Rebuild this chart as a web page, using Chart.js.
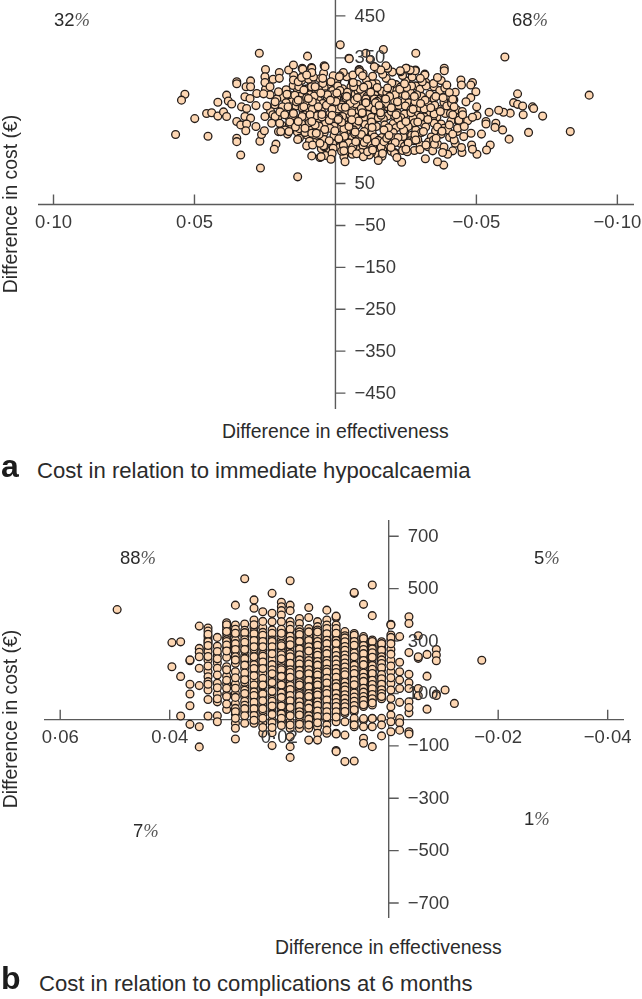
<!DOCTYPE html>
<html>
<head>
<meta charset="utf-8">
<title>Cost-effectiveness planes</title>
<script src="https://cdn.jsdelivr.net/npm/chart.js@4/dist/chart.umd.min.js"></script>
<style>
  html, body { margin: 0; padding: 0; background: #fff; }
  #page { position: relative; width: 642px; height: 999px; overflow: hidden; font-family: "Liberation Sans", Arial, sans-serif; color: #2b2b2b; }
  canvas { position: absolute; left: 0; }
  .txt { position: absolute; white-space: nowrap; line-height: 1; }
  .axis-title { font-size: 19.4px; }
  .caption { font-size: 22.1px; }
  .letter { font-size: 32px; font-weight: bold; color: #1c1c1c; }
  .pct { font-size: 18.5px; }
  .pct i { font-family: "Liberation Serif", serif; font-weight: normal; color: #555; }
  .ytitle { font-size: 19.4px; transform: translate(-50%, -50%) rotate(-90deg); }
</style>
</head>
<body>
<div id="page">
  <canvas id="chart-a" width="642" height="420" style="top:0"></canvas>
  <canvas id="chart-b" width="642" height="420" style="top:510px"></canvas>

  <div class="txt pct" style="left:54px;top:11px">32<i>%</i></div>
  <div class="txt pct" style="left:512px;top:11px">68<i>%</i></div>
  <div class="txt ytitle" style="left:11px;top:204px">Difference in cost (€)</div>
  <div class="txt axis-title" style="left:222px;top:422px">Difference in effectiveness</div>
  <div class="txt letter" style="left:1px;top:450px">a</div>
  <div class="txt caption" style="left:37px;top:460px">Cost in relation to immediate hypocalcaemia</div>

  <div class="txt pct" style="left:120px;top:549px">88<i>%</i></div>
  <div class="txt pct" style="left:534px;top:549px">5<i>%</i></div>
  <div class="txt pct" style="left:133px;top:822px">7<i>%</i></div>
  <div class="txt pct" style="left:524px;top:810px">1<i>%</i></div>
  <div class="txt ytitle" style="left:11px;top:719px">Difference in cost (€)</div>
  <div class="txt axis-title" style="left:275px;top:938px">Difference in effectiveness</div>
  <div class="txt letter" style="left:1px;top:962px">b</div>
  <div class="txt caption" style="left:39px;top:973px">Cost in relation to complications at 6 months</div>
</div>

<script>
const xTicksA = [0.10, 0.05, -0.05, -0.10];
const xTickLabelsA = ['0·10', '0·05', '−0·05', '−0·10'];
const yTicksA = [450, 350, 250, 150, 50, -50, -150, -250, -350, -450];
const yTickLabelsA = ['450', '350', '250', '150', '50', '−50', '−150', '−250', '−350', '−450'];
// these two disappear behind the cloud of points in the original
const buriedLabelsA = ['250', '150'];

const xTicksB = [0.06, 0.04, 0.02, -0.02, -0.04];
const xTickLabelsB = ['0·06', '0·04', '0·02', '−0·02', '−0·04'];
const yTicksB = [700, 500, 300, 100, -100, -300, -500, -700];
const yTickLabelsB = ['700', '500', '300', '100', '−100', '−300', '−500', '−700'];

// panel a: difference in effectiveness / cost, same order in both lists
const effectA = [
  .0150,.0120,.0085,.0055,.0025,-.0005,-.0040,-.0075,-.0110,-.0145,
  -.0180,-.0215,-.0250,-.0285,-.0320,-.0350,-.0375,.0175,.0135,.0100,
  .0070,.0040,.0010,-.0025,-.0055,-.0090,-.0125,-.0160,-.0195,-.0230,
  -.0265,-.0300,-.0335,-.0370,-.0400,-.0425,.0190,.0155,.0125,.0090,
  .0060,.0030,-.0005,-.0035,-.0070,-.0105,-.0140,-.0175,-.0210,-.0245,
  -.0280,-.0315,-.0350,-.0385,-.0420,.0215,.0175,.0140,.0105,.0075,
  .0045,.0015,-.0020,-.0050,-.0085,-.0120,-.0155,-.0190,-.0225,-.0260,
  -.0295,-.0330,-.0365,-.0395,-.0430,.0230,.0185,.0150,.0115,.0085,
  .0050,.0020,-.0015,-.0045,-.0080,-.0115,-.0150,-.0185,-.0220,-.0255,
  -.0290,-.0325,-.0360,-.0390,-.0425,-.0450,.0205,.0165,.0130,.0095,
  .0065,.0030,.0000,-.0030,-.0065,-.0100,-.0135,-.0170,-.0205,-.0240,
  -.0275,-.0310,-.0345,-.0375,-.0410,-.0440,.0190,.0155,.0120,.0090,
  .0055,.0025,-.0010,-.0040,-.0075,-.0110,-.0145,-.0180,-.0215,-.0250,
  -.0285,-.0320,-.0355,-.0385,.0170,.0135,.0100,.0070,.0040,.0005,
  -.0030,-.0060,-.0095,-.0130,-.0165,-.0200,-.0235,-.0270,-.0305,-.0340,
  -.0375,-.0405,.0075,.0040,.0010,-.0020,-.0055,-.0090,-.0125,-.0160,
  -.0195,-.0230,-.0265,-.0300,-.0330,.0050,.0020,-.0015,-.0045,-.0080,
  -.0110,-.0140,-.0175,-.0210,-.0245,-.0280,-.0060,-.0030,.0035,-.0150,
  .0110,.0075,.0045,.0010,-.0025,-.0060,-.0095,-.0130,-.0165,-.0200,
  -.0235,-.0270,-.0305,.0125,.0095,.0065,.0035,.0000,-.0035,-.0070,
  -.0105,-.0140,-.0175,-.0210,-.0245,-.0280,-.0315,-.0350,.0035,.0000,
  -.0035,-.0070,-.0105,-.0140,-.0175,-.0210,-.0245,-.0280,-.0315,-.0350,
  .0070,.0040,.0005,-.0030,-.0065,-.0100,-.0135,-.0170,-.0205,-.0240,
  -.0010,-.0045,-.0080,-.0115,-.0150,-.0185,.0020,-.0025,-.0060,-.0095,
  .0165,.0130,.0095,.0060,.0028,-.0008,-.0042,-.0078,-.0112,-.0148,
  -.0182,-.0218,-.0252,-.0288,-.0322,-.0356,-.0388,.0208,.0172,.0138,
  .0102,.0068,.0032,-.0002,-.0038,-.0072,-.0108,-.0142,-.0178,-.0212,
  -.0248,-.0282,-.0318,-.0352,-.0382,-.0412,.0222,.0188,.0152,.0118,
  .0082,.0048,.0012,-.0022,-.0058,-.0092,-.0128,-.0162,-.0198,-.0232,
  -.0268,-.0302,-.0338,-.0372,-.0408,-.0438,.0198,.0162,.0128,.0092,
  .0058,.0022,-.0012,-.0048,-.0082,-.0118,-.0152,-.0188,-.0222,-.0258,
  -.0292,-.0328,-.0362,-.0398,-.0432,.0178,.0142,.0108,.0072,.0038,
  .0002,-.0032,-.0068,-.0102,-.0138,-.0172,-.0208,-.0242,-.0278,-.0312,
  -.0348,-.0378,.0128,.0092,.0058,.0022,-.0012,-.0048,-.0082,-.0118,
  -.0152,-.0188,-.0222,-.0258,-.0292,-.0328,-.0362,.0042,.0008,-.0028,
  -.0062,-.0098,-.0132,-.0168,-.0202,-.0238,.0012,-.0022,-.0058,-.0092,
  -.0128,-.0162,-.0198,.0148,.0112,.0078,.0042,.0008,-.0028,-.0062,
  -.0098,-.0132,-.0168,-.0202,-.0238,-.0272,-.0308,-.0348,.0248,.0232,
  .0085,.0052,.0018,-.0016,-.0052,-.0088,-.0122,-.0158,-.0192,-.0228,
  .0012,-.0022,-.0058,-.0092,-.0128,-.0162,-.0198,-.0232,-.0268,-.0302,
  -.0072,-.0108,-.0142,-.0178,-.0212,-.0248,-.0282,.0048,.0082,.0118,
  -.0068,-.0102,-.0138,-.0172,-.0078,-.0112,-.0148,-.0182,-.0142,-.0108,
  -.0084,-.0084,-.0146,-.0185,-.0231,-.0252,-.0264,-.0284,-.0317,-.0048,
  -.0005,-.0035,-.0065,-.0095,-.0125,-.0155,-.0185,-.0215,-.0245,-.0275,
  -.0010,-.0040,-.0070,-.0100,-.0130,-.0160,-.0190,-.0220,-.0250,-.0280,
  -.0030,-.0075,-.0120,-.0165,-.0210,-.0255,-.0300,-.0345,-.0385,-.0425,
  .0118,.0085,.0040,-.0016,-.0063,
  .0270,.0099,.0534,.0546,.0499,.0567,.0452,.0336,.0266,.0134,
  .0457,.0439,.0417,.0417,.0397,.0386,.0386,.0380,.0368,.0350,
  .0350,.0301,.0317,.0301,.0321,.0303,.0279,.0255,.0333,.0315,
  .0282,.0321,.0301,.0350,.0336,.0315,.0318,.0282,.0350,.0350,
  .0268,.0262,.0252,.0211,.0217,.0248,.0250,.0250,.0221,.0199,
  .0199,.0166,.0149,.0232,.0202,.0243,.0250,.0214,.0214,.0226,
  .0197,.0202,.0194,.0165,.0180,.0168,.0149,.0132,.0116,.0084,
  .0084,.0120,.0102,.0144,.0132,.0149,.0132,.0134,.0102,.0081,
  .0084,.0055,.0112,.0096,.0072,.0112,.0090,.0061,.0108,.0084,
  .0068,.0084,.0055,-.0017,-.0170,-.0049,-.0108,-.0124,-.0285,-.0601,
  -.0900,-.0833,-.0685,-.0646,-.0632,-.0646,-.0664,-.0699,-.0703,-.0666,
  -.0735,-.0620,-.0596,-.0579,-.0545,-.0534,-.0534,-.0569,-.0566,-.0593,
  -.0616,-.0518,-.0481,-.0549,-.0536,-.0502,-.0483,-.0486,-.0449,-.0447,
  -.0416,-.0398,-.0380,-.0384,-.0362,-.0319,-.0235,-.0218,-.0152,-.0034,
  .0016,.0051,-.0099,-.0114,-.0132,-.0167,-.0197,-.0250,-.0321,-.0351,
  -.0357,-.0285,-.0421,-.0455,-.0416,-.0445,-.0486,-.0480,-.0447,-.0498,
  -.0480,-.0463,-.0501,-.0502,-.0469,-.0486,-.0451,-.0433,-.0457,-.0386,
  -.0386,-.0362,-.0395,-.0404,-.0416,-.0421,-.0416,-.0404,-.0317,-.0301,
  -.0283,-.0265,-.0250,-.0230,-.0185,-.0179,-.0161,-.0138,-.0085,-.0085,
  -.0096,-.0014,.0016,.0045,.0037
];
const costA = [
  284,296,290,300,287,294,305,283,297,288,
  301,286,295,283,292,281,296,274,270,276,
  268,279,272,264,281,270,277,266,274,280,
  268,275,263,272,260,268,256,251,258,262,
  249,257,252,259,246,254,261,248,256,245,
  255,247,253,244,250,238,243,235,240,233,
  241,234,238,230,242,233,239,229,236,243,
  231,238,227,235,226,222,226,219,224,217,
  223,216,221,212,225,215,220,211,218,224,
  213,219,209,217,208,222,205,209,202,206,
  199,204,197,203,194,207,198,204,193,200,
  206,195,201,192,199,194,189,184,192,186,
  180,188,183,176,189,179,186,175,183,190,
  178,185,176,182,168,173,165,160,171,164,
  170,159,166,172,160,167,158,165,172,161,
  168,160,148,155,145,151,143,150,155,144,
  150,146,152,143,149,133,128,136,125,131,
  137,128,135,124,139,129,120,114,117,118,
  275,259,289,262,276,292,263,288,270,290,
  265,283,258,248,229,212,264,243,224,263,
  243,226,236,247,216,239,228,216,195,214,
  190,208,191,204,190,211,175,195,209,194,
  176,138,187,181,178,158,145,148,172,162,
  228,249,271,285,251,233,182,210,232,217,
  262,281,299,274,262,283,268,287,258,279,
  267,272,279,262,283,258,278,252,263,245,
  255,241,237,246,254,240,250,247,241,262,
  235,246,249,237,255,241,214,233,212,231,
  227,209,227,232,219,229,208,231,222,207,
  226,209,231,222,217,201,194,197,181,195,
  187,201,206,186,199,184,207,183,204,186,
  197,203,185,178,174,178,185,172,190,179,
  176,163,169,174,161,178,159,177,152,174,
  154,175,158,151,167,152,157,147,156,146,
  153,141,160,147,155,138,144,140,134,141,
  137,141,135,130,145,129,122,127,130,124,
  124,137,127,308,312,304,313,307,315,309,
  312,306,311,316,308,304,293,289,275,262,
  281,266,249,272,241,275,255,229,258,275,
  213,196,202,167,197,213,231,190,219,241,
  150,252,149,252,148,260,166,215,245,210,
  249,148,252,150,255,156,246,158,243,243,
  319,322,325,325,317,325,319,321,311,349,
  266,232,281,219,268,236,278,214,288,227,
  203,258,173,280,184,219,165,245,198,258,
  128,121,118,115,122,126,131,128,137,146,
  325,327,331,307,291,
  361,354,263,249,205,167,163,118,87,66,
  217,219,244,211,221,210,261,247,240,293,
  288,295,281,281,257,253,265,264,233,229,
  236,210,206,198,190,192,176,186,158,150,
  151,167,176,144,132,322,305,291,299,315,
  301,321,333,281,269,235,210,245,210,194,
  221,174,174,174,214,233,297,293,323,325,
  315,303,309,261,249,217,198,155,140,142,
  116,112,273,253,281,233,214,233,182,170,
  170,198,146,381,370,348,361,346,361,352,
  261,174,172,264,243,239,235,233,229,214,
  211,218,220,225,220,198,192,194,184,178,
  156,168,170,142,130,120,142,132,124,136,
  128,120,124,94,102,109,101,112,105,102,
  108,114,114,126,130,122,136,132,142,144,
  158,154,154,162,168,297,291,285,285,269,
  255,245,233,212,200,208,214,182,186,325,
  319,303,285,267,251,233,214,190,309,301,
  319,321,325,319,325,331,321,329,321,317,
  307,305,293,301,329
];

// panel b: effectiveness comes in evenly spaced columns, costs are listed per column
const effectColumnsB = [
  .0496,.0396,.0380,.0363,.0346,.0330,.0313,.0296,.0280,.0263,
  .0246,.0230,.0213,.0196,.0180,.0163,.0146,.0130,.0113,.0096,
  .0080,.0063,.0046,.0030,.0013,-.0004,-.0020,-.0037,-.0054,-.0070,
  -.0087,-.0103,-.0120,-.0170
];
const costColumnsB = [
  [420],
  [294,202],
  [297,165,14],
  [225,228,135,98,53,-18],
  [357,272,257,240,196,130,-27,-104],
  [350,317,304,291,272,259,228,183,164,145,113,77,14,338,326,297,283,241,205,135],
  [314,247,217,196,139,98,68,15,-8,280,260,232,170,122,80],
  [370,357,345,329,314,272,238,202,167,136,97,88,39,362,336,305,298,285,262,190,150,120,60],
  [437,361,323,304,278,253,215,183,136,100,62,43,21,-14,-33,-74,345,330,290,268,240,228,160,120,85,30,5],
  [538,365,319,281,243,221,196,164,126,88,30,-14,341,262,143,70,332,305,295,268,232,208,178,152,112,100,55,42,15],
  [457,425,380,352,317,289,253,221,183,151,119,81,30,-14,335,270,205,101,52,362,328,302,278,240,210,195,168,132,106,92,66,42,16,-2],
  [412,352,310,266,234,177,145,107,88,56,18,-14,-52,333,288,250,207,128,35,375,322,298,278,242,220,195,158,132,98,72,42,5,-30],
  [482,406,374,342,317,291,266,240,215,183,151,119,94,62,30,-1,-50,-99,330,304,228,198,165,135,78,45,298,278,252,210,190,175,142,108,70,52,20,-12,-30],
  [448,431,416,399,374,336,304,272,240,208,183,157,126,94,62,30,-8,320,290,258,222,170,142,110,78,45,14,345,330,282,248,232,198,190,165,132,102,85,52,22,5,-22],
  [530,437,416,374,342,310,278,247,221,196,170,139,107,81,56,24,-8,-33,-65,-103,-144,360,326,294,262,234,208,152,122,68,38,345,318,302,286,252,240,215,190,180,162,130,115,92,72,46,15,-20],
  [386,367,329,304,278,253,221,196,164,138,113,87,62,24,-8,-33,345,316,290,265,238,208,180,150,125,100,75,40,10,335,325,298,270,248,228,212,188,172,142,132,92,68,52,30,18,-18],
  [428,390,336,310,285,259,234,208,183,157,132,107,81,56,24,-8,-33,-78,348,322,296,271,245,220,195,170,144,119,94,68,36,335,302,278,262,226,212,190,175,150,126,100,88,60,44,15,2,-20],
  [374,355,329,304,278,253,227,202,177,151,126,100,75,49,5,-27,-52,-78,342,316,290,265,240,214,189,164,138,113,88,62,28,335,298,284,258,246,222,208,182,170,145,132,106,94,68,55,33,12,-12],
  [418,380,361,336,310,285,259,234,208,189,164,132,107,81,43,-1,-20,-52,348,322,297,272,246,221,198,176,148,119,94,62,22,328,303,290,265,252,226,214,192,182,158,140,113,100,75,50,30,10,-40],
  [390,395,361,336,310,285,253,221,189,157,132,107,75,43,-8,-52,-118,-122,348,322,297,269,237,205,173,145,119,90,58,20,-55,330,302,291,262,245,228,212,195,180,162,138,125,100,82,65,50,30,10],
  [336,304,272,240,208,177,151,120,88,56,24,-8,-59,-160,320,288,256,224,192,164,135,104,72,40,312,297,279,265,247,233,216,201,183,171,143,127,113,95,81,63,49,31],
  [482,485,329,304,278,247,215,183,157,126,94,62,30,-8,-27,-158,316,291,262,231,199,170,141,110,78,46,5,-20,322,298,284,254,240,208,190,176,150,133,102,86,70,54,38],
  [440,317,291,259,234,202,170,138,113,81,50,-1,-27,-71,-90,304,275,246,218,186,154,125,97,65,4,310,283,268,252,226,210,178,162,146,120,105,88,74,57],
  [514,397,304,278,247,215,183,157,126,88,56,5,-27,-103,291,262,231,199,170,141,107,72,4,298,270,255,238,207,192,176,150,134,118,96,80,64],
  [297,272,247,221,164,120,94,5,-20,-62,284,259,234,192,142,107,80,290,265,240,228,214,198,172,156,135,114,100,88],
  [364,361,323,304,268,314,227,183,138,113,81,49,18,-8,-46,290,250,205,160],
  [317,219,183,151,119,66,4,-12,-40],
  [393,367,256,173,141,119,68,26,46,-46,-55],
  [320,234,240,119,91],
  [249,166,40],
  [268,247,225,98,92],
  [113],
  [62],
  [227]
];

const effectB = costColumnsB.flatMap((col, i) => col.map(() => effectColumnsB[i]));
const costB = costColumnsB.flat();

// Axes cross in the middle of the plot. Lines go under the points, labels on top of them
function crossAxes(xTicks, xLabels, yTicks, yLabels, buried = []) {
  function drawYLabels(chart, wanted) {
    const { ctx, scales: { x, y } } = chart;
    ctx.textAlign = 'left';
    yTicks.forEach((v, i) => {
      if (wanted(yLabels[i])) ctx.fillText(yLabels[i], x.getPixelForValue(0) + 19, y.getPixelForValue(v) + 0.5);
    });
  }
  function setFont(ctx) {
    ctx.fillStyle = '#3a3a3a';
    ctx.font = '18.5px "Liberation Sans", Arial, sans-serif';
    ctx.textBaseline = 'middle';
  }
  return {
    id: 'crossAxes',
    beforeDatasetsDraw(chart) {
      const { ctx, chartArea: area, scales: { x, y } } = chart;
      const x0 = x.getPixelForValue(0);
      const y0 = y.getPixelForValue(0);
      ctx.save();
      ctx.strokeStyle = '#5a5a5a';
      ctx.lineWidth = 1.4;
      ctx.beginPath();
      ctx.moveTo(area.left, y0);
      ctx.lineTo(area.right, y0);
      ctx.moveTo(x0, area.top);
      ctx.lineTo(x0, area.bottom);
      xTicks.forEach(v => {
        ctx.moveTo(x.getPixelForValue(v), y0);
        ctx.lineTo(x.getPixelForValue(v), y0 - 10);
      });
      yTicks.forEach(v => {
        ctx.moveTo(x0, y.getPixelForValue(v));
        ctx.lineTo(x0 + 10, y.getPixelForValue(v));
      });
      ctx.stroke();
      setFont(ctx);
      drawYLabels(chart, label => buried.includes(label));
      ctx.restore();
    },
    afterDatasetsDraw(chart) {
      const { ctx, scales: { x, y } } = chart;
      ctx.save();
      setFont(ctx);
      ctx.textAlign = 'center';
      xTicks.forEach((v, i) => ctx.fillText(xLabels[i], x.getPixelForValue(v), y.getPixelForValue(0) + 18));
      drawYLabels(chart, label => !buried.includes(label));
      ctx.restore();
    },
  };
}

function initChart(id, effect, cost, limits, padding, axes) {
  return new Chart(document.getElementById(id).getContext('2d'), {
    type: 'scatter',
    data: {
      datasets: [{
        data: effect.map((v, i) => ({ x: v, y: cost[i] })),
        backgroundColor: '#fdd6b2',
        borderColor: '#241d1a',
        borderWidth: 1.3,
        pointRadius: 3.9,
      }],
    },
    options: {
      responsive: false,
      animation: false,
      layout: { padding, autoPadding: false },
      plugins: { legend: { display: false }, tooltip: { enabled: false } },
      scales: {
        x: { display: false, reverse: true, min: limits.xMin, max: limits.xMax },
        y: { display: false, min: limits.yMin, max: limits.yMax },
      },
    },
    plugins: [axes],
  });
}

initChart('chart-a', effectA, costA,
  { xMin: -0.1059, xMax: 0.1055, yMin: -488, yMax: 488 },
  { left: 38, right: 8, top: 0, bottom: 11 },
  crossAxes(xTicksA, xTickLabelsA, yTicksA, yTickLabelsA, buriedLabelsA));

initChart('chart-b', effectB, costB,
  { xMin: -0.04298, xMax: 0.06296, yMin: -757, yMax: 762 },
  { left: 44, right: 18, top: 10, bottom: 12 },
  crossAxes(xTicksB, xTickLabelsB, yTicksB, yTickLabelsB));
</script>
</body>
</html>
